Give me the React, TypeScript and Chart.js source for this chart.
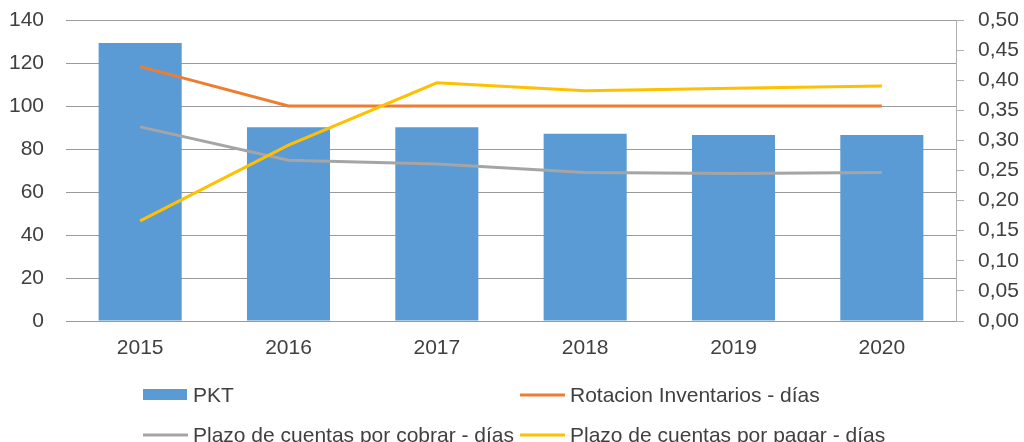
import React, { useEffect, useRef } from "react";
import { Chart, registerables } from "chart.js";

Chart.register(...registerables);

const categories = ["2015", "2016", "2017", "2018", "2019", "2020"];
const pktValues = [0.462, 0.322, 0.322, 0.311, 0.309, 0.309];
const rotacionValues = [118.3, 100, 100, 100, 100, 100];
const cobrarValues = [90.3, 74.8, 73.0, 69.1, 68.6, 69.1];
const pagarValues = [46.6, 81.8, 110.8, 107.1, 108.2, 109.3];
const seriesLabels = [
  "PKT",
  "Rotacion Inventarios - días",
  "Plazo de cuentas por cobrar - días",
  "Plazo de cuentas por pagar - días",
];

const FONT = "'Liberation Sans', Arial, sans-serif";
const TEXT = "#404040";

const legendPlugin = {
  id: "gridLegend",
  afterDraw(chart: any) {
    const ctx = chart.ctx;
    const ds = chart.data.datasets;
    const cols = [143, 520];
    const rows = [395, 435];
    ctx.save();
    ctx.font = `21px ${FONT}`;
    ctx.fillStyle = TEXT;
    ctx.textBaseline = "middle";
    ds.forEach((d: any, i: number) => {
      const x = cols[i % 2];
      const y = rows[Math.floor(i / 2)];
      if (d.type === "bar") {
        ctx.fillStyle = d.backgroundColor;
        ctx.fillRect(x, y - 6, 44, 11);
      } else {
        ctx.strokeStyle = d.borderColor;
        ctx.lineWidth = 3;
        ctx.beginPath();
        ctx.moveTo(x, y);
        ctx.lineTo(x + 45, y);
        ctx.stroke();
      }
      ctx.fillStyle = TEXT;
      ctx.textAlign = "left";
      ctx.fillText(d.label, x + 50, y + 1);
    });
    ctx.restore();
  },
};

const fixVertical = (w: number) => (s: any) => {
  s.width = w;
  s.paddingTop = 0;
  s.paddingBottom = 0;
};

export default function App() {
  const ref = useRef<HTMLCanvasElement | null>(null);

  useEffect(() => {
    if (!ref.current) return;
    const chart = new Chart(ref.current, {
      type: "bar",
      data: {
        labels: categories,
        datasets: [
          {
            type: "bar",
            label: seriesLabels[0],
            data: pktValues,
            backgroundColor: "#5B9BD5",
            yAxisID: "y1",
            barPercentage: 0.56,
            categoryPercentage: 1,
            order: 2,
          },
          {
            type: "line",
            label: seriesLabels[1],
            data: rotacionValues,
            borderColor: "#ED7D31",
            backgroundColor: "#ED7D31",
            borderWidth: 3,
            pointRadius: 0,
            tension: 0,
            yAxisID: "y",
            order: 1,
          },
          {
            type: "line",
            label: seriesLabels[2],
            data: cobrarValues,
            borderColor: "#A5A5A5",
            backgroundColor: "#A5A5A5",
            borderWidth: 3,
            pointRadius: 0,
            tension: 0,
            yAxisID: "y",
            order: 1,
          },
          {
            type: "line",
            label: seriesLabels[3],
            data: pagarValues,
            borderColor: "#FFC000",
            backgroundColor: "#FFC000",
            borderWidth: 3,
            pointRadius: 0,
            tension: 0,
            yAxisID: "y",
            order: 0,
          },
        ] as any,
      },
      options: {
        animation: false,
        responsive: false,
        devicePixelRatio: 1,
        layout: { padding: { top: 20, left: 0, right: 0, bottom: 0 } },
        plugins: {
          legend: { display: false },
          tooltip: { enabled: false },
        },
        scales: {
          x: {
            offset: true,
            grid: { display: false, drawTicks: false },
            border: { display: false },
            ticks: {
              padding: 15,
              color: TEXT,
              font: { family: FONT, size: 21 },
            },
            afterFit: (s: any) => {
              s.height = 121;
              s.paddingLeft = 0;
              s.paddingRight = 0;
            },
          },
          y: {
            position: "left",
            min: 0,
            max: 140,
            ticks: {
              stepSize: 20,
              padding: 22,
              color: TEXT,
              font: { family: FONT, size: 21 },
            },
            grid: { color: "#9A9A9A", lineWidth: 1, drawTicks: false },
            border: { display: false },
            afterFit: fixVertical(66),
          },
          y1: {
            position: "right",
            min: 0,
            max: 0.5,
            ticks: {
              stepSize: 0.05,
              padding: 14,
              color: TEXT,
              font: { family: FONT, size: 21 },
              callback: (v: any) => Number(v).toFixed(2).replace(".", ","),
            },
            grid: {
              drawOnChartArea: false,
              drawTicks: true,
              tickLength: 8,
              color: "#B0B0B0",
            },
            border: { display: true, color: "#B0B0B0", width: 1 },
            afterFit: fixVertical(68),
          },
        },
      } as any,
      plugins: [legendPlugin],
    });
    return () => chart.destroy();
  }, []);

  return (
    <div style={{ position: "absolute", left: 0, top: 0, width: 1024, height: 442, background: "#fff" }}>
      <canvas ref={ref} width={1024} height={442} />
    </div>
  );
}
